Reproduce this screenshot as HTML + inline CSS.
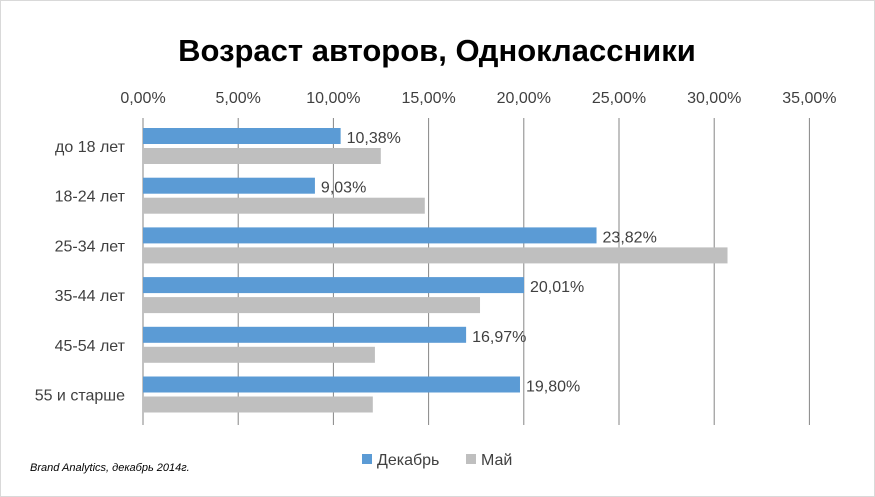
<!DOCTYPE html>
<html><head><meta charset="utf-8"><style>
body{margin:0;background:#fff}
svg{display:block;font-family:"Liberation Sans",sans-serif}
</style></head><body>
<svg width="875" height="497" viewBox="0 0 875 497">
<rect x="0.5" y="0.5" width="874" height="496" fill="#fff" stroke="#d9d9d9"/>
<text x="437" y="61" text-anchor="middle" font-size="31" font-weight="bold" fill="#000">Возраст авторов, Одноклассники</text>
<g id="grid"></g><g id="bars"></g>
<g>
<rect x="362" y="454" width="10" height="10" fill="#5b9bd5"/>
<text x="377" y="465" font-size="16" fill="#404040">Декабрь</text>
<rect x="466" y="454" width="10" height="10" fill="#bfbfbf"/>
<text x="481" y="465" font-size="16" fill="#404040">Май</text>
</g>
<text x="30" y="471" font-size="11" font-style="italic" fill="#000">Brand Analytics, декабрь 2014г.</text>
</svg>
<script>
const categories=["до 18 лет","18-24 лет","25-34 лет","35-44 лет","45-54 лет","55 и старше"];
const december=[10.38,9.03,23.82,20.01,16.97,19.80];
const may=[12.49,14.8,30.7,17.7,12.18,12.07];
const ticks=[0,5,10,15,20,25,30,35];
const NS="http://www.w3.org/2000/svg";
const x0=143,pxPer=19.04,plotTop=118,plotBottom=425,rowH=49.7;
const xs=v=>x0+v*pxPer;
const fmt=v=>v.toFixed(2).replace('.',',')+'%';
const grid=document.getElementById('grid'),bars=document.getElementById('bars');
function mk(tag,attrs,parent){const e=document.createElementNS(NS,tag);for(const k in attrs)e.setAttribute(k,attrs[k]);parent.appendChild(e);return e;}
ticks.forEach((t,i)=>{
 const l=mk('line',{x1:xs(t),x2:xs(t),y1:plotTop,y2:plotBottom,stroke:'#868686','stroke-width':1},grid);
 
 
 const tx=mk('text',{x:xs(t),y:103,'text-anchor':'middle','font-size':16,fill:'#404040'},grid);
 tx.textContent=fmt(t);
 
 
});
categories.forEach((c,i)=>{
 const y=plotTop+10+i*rowH;
 const lb=mk('text',{x:125,y:y+24,'text-anchor':'end','font-size':16,fill:'#404040'},bars);
 lb.textContent=c;
 
 
 const b=mk('rect',{x:x0,y:y,width:xs(december[i])-x0,height:16,fill:'#5b9bd5'},bars);
 
 
 const g=mk('rect',{x:x0,y:y+20,width:xs(may[i])-x0,height:16,fill:'#bfbfbf'},bars);
 
 
 const v=mk('text',{x:xs(december[i])+6,y:y+15,'font-size':16,fill:'#404040'},bars);
 v.textContent=fmt(december[i]);
 
 
});
</script>
</body></html>
